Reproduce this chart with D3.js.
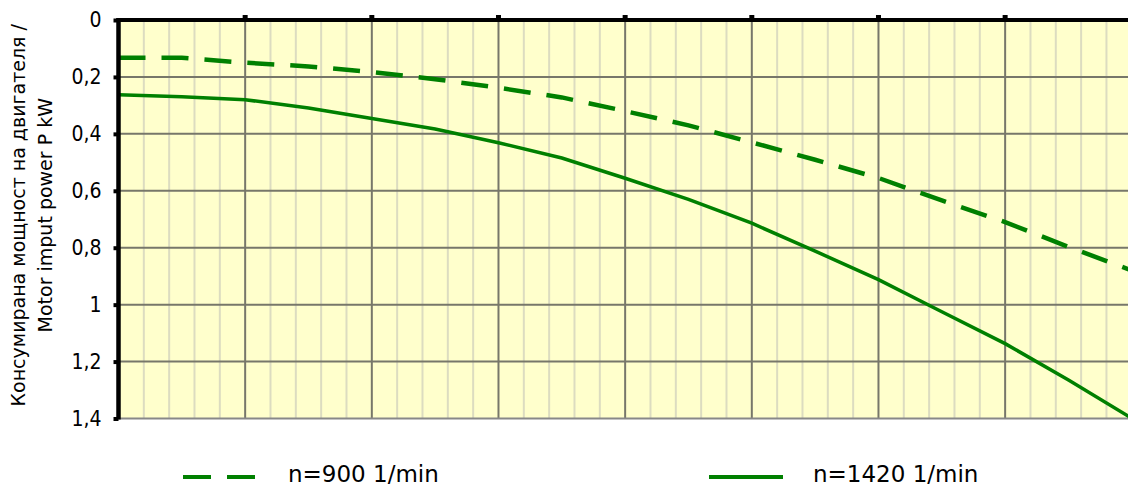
<!DOCTYPE html>
<html><head><meta charset="utf-8">
<script src="https://cdn.jsdelivr.net/npm/d3@7"></script>
<style>html,body{margin:0;padding:0;background:#fff;}svg{display:block;}</style>
</head><body>
<svg id="chart" width="1128" height="487"></svg>
<script>
// X positions (grid units, no labels on x axis)
const xPoints = [0, 0.5, 1, 1.5, 2, 2.5, 3, 3.5, 4, 4.5, 5, 5.5, 6, 6.5, 7, 7.5, 8];
// Motor input power P kW, n=900 1/min (dashed)
const power900 = [0.133, 0.133, 0.150, 0.163, 0.183, 0.208, 0.238, 0.272, 0.320, 0.370, 0.430, 0.491, 0.555, 0.634, 0.710, 0.797, 0.880];
// Motor input power P kW, n=1420 1/min (solid)
const power1420 = [0.263, 0.270, 0.280, 0.309, 0.346, 0.383, 0.431, 0.485, 0.556, 0.630, 0.714, 0.812, 0.912, 1.025, 1.137, 1.265, 1.399];
const yTicks = [0, 0.2, 0.4, 0.6, 0.8, 1.0, 1.2, 1.4];
const yTickLabels = ["0", "0,2", "0,4", "0,6", "0,8", "1", "1,2", "1,4"];
const seriesNames = ["n=900 1/min", "n=1420 1/min"];
const yTitle = ["Консумирана мощност на двигателя /", "Motor imput power P kW"];

const svg = d3.select("#chart");
const pL = 118.5, pT = 20, pB = 418.5, pR = 1131.8, W = 1128;
const x = d3.scaleLinear().domain([0, 8]).range([pL, pR]);
const y = d3.scaleLinear().domain([0, 1.4]).range([pT, pB]);
const green = "#008000";

// background
svg.append("rect").attr("x", pL).attr("y", pT).attr("width", W - pL).attr("height", pB - pT).attr("fill", "#FFFFCC");

// minor vertical grid
const minorX = d3.range(0, 8.0001, 0.2).filter(v => Math.abs(v - Math.round(v)) > 1e-6);
svg.append("g").selectAll("line").data(minorX).join("line")
  .attr("x1", d => x(d)).attr("x2", d => x(d)).attr("y1", pT).attr("y2", pB)
  .attr("stroke", "#DCDCC0").attr("stroke-width", 2);
// major vertical grid
svg.append("g").selectAll("line").data(d3.range(1, 8)).join("line")
  .attr("x1", d => x(d)).attr("x2", d => x(d)).attr("y1", pT).attr("y2", pB)
  .attr("stroke", "#77776A").attr("stroke-width", 2);
// horizontal grid
svg.append("g").selectAll("line").data(yTicks.slice(1, -1)).join("line")
  .attr("x1", pL).attr("x2", W).attr("y1", d => y(d)).attr("y2", d => y(d))
  .attr("stroke", "#77776A").attr("stroke-width", 2);
// bottom border
svg.append("line").attr("x1", pL).attr("x2", W).attr("y1", pB).attr("y2", pB)
  .attr("stroke", "#888888").attr("stroke-width", 2);

// series
const line = d3.line().x((d, i) => x(xPoints[i])).y(d => y(d));
svg.append("path").datum(power900).attr("d", line).attr("fill", "none")
  .attr("stroke", green).attr("stroke-width", 4.5).attr("stroke-dasharray", "27,16");
svg.append("path").datum(power1420).attr("d", line).attr("fill", "none")
  .attr("stroke", green).attr("stroke-width", 3.5);

// top axis (thick black) with ticks at majors
svg.append("line").attr("x1", pL - 2).attr("x2", W).attr("y1", pT).attr("y2", pT)
  .attr("stroke", "#000").attr("stroke-width", 4);
svg.append("g").selectAll("rect").data(d3.range(1, 8)).join("rect")
  .attr("x", d => x(d) - 2.5).attr("y", pT - 5).attr("width", 5).attr("height", 5).attr("fill", "#000");

// left axis
const yAxis = d3.axisLeft(y).tickValues(yTicks).tickFormat((d, i) => yTickLabels[i]).tickSize(5).tickPadding(12);
const ga = svg.append("g").attr("transform", `translate(${pL},0)`).call(yAxis);
ga.select(".domain").attr("stroke", "#000").attr("stroke-width", 4.5).attr("d", `M0,${pT - 2}V${pB + 1}`);
ga.selectAll(".tick line").attr("stroke", "#000").attr("stroke-width", 4);
ga.selectAll(".tick text").attr("font-family", "'DejaVu Sans Condensed', 'DejaVu Sans', sans-serif")
  .attr("font-size", 21).attr("fill", "#000");

// y title
const tt = svg.append("text").attr("transform", `translate(31,${(pT + pB) / 2 - 4}) rotate(-90)`)
  .attr("text-anchor", "middle").attr("font-family", "'DejaVu Sans', sans-serif").attr("font-size", 19).attr("fill", "#000");
tt.append("tspan").attr("x", 0).attr("dy", -6).text(yTitle[0]);
tt.append("tspan").attr("x", 0).attr("dy", 27).text(yTitle[1]);

// legend
const lg = svg.append("g");
lg.append("line").attr("x1", 183).attr("x2", 256).attr("y1", 477).attr("y2", 477)
  .attr("stroke", green).attr("stroke-width", 4).attr("stroke-dasharray", "28,16");
lg.append("text").attr("x", 288).attr("y", 482).attr("font-family", "'DejaVu Sans', sans-serif").attr("font-size", 23).text(seriesNames[0]);
lg.append("line").attr("x1", 709).attr("x2", 783).attr("y1", 477).attr("y2", 477)
  .attr("stroke", green).attr("stroke-width", 4);
lg.append("text").attr("x", 813).attr("y", 482).attr("font-family", "'DejaVu Sans', sans-serif").attr("font-size", 23).text(seriesNames[1]);
</script>
</body></html>
